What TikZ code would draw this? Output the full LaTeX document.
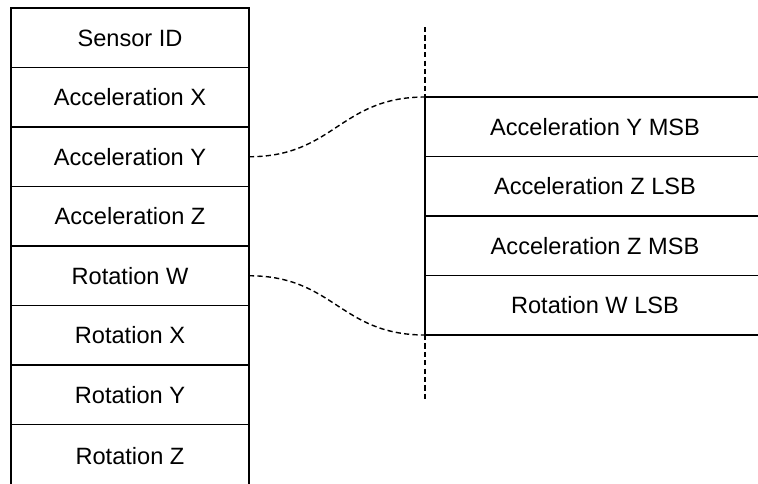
\documentclass[tikz,border=0pt]{standalone}
\usepackage{fontspec}
\setmainfont{Liberation Sans}
\usetikzlibrary{positioning}
\definecolor{mydark}{RGB}{0,0,0}
\tikzset{
  cell/.style={rectangle, draw=mydark, minimum width=119pt, minimum height=29.75pt,
    inner sep=0pt, outer sep=0pt, line width=0.7pt,
    font=\fontsize{11.8}{14}\selectfont, text height=8.4pt, text depth=0pt},
  widecell/.style={cell, minimum width=170pt},
  link/.style={line width=0.7pt, color=mydark, dash pattern=on 2.6pt off 1.6pt},
  guide/.style={line width=0.7pt, color=mydark, dash pattern=on 2.6pt off 1.6pt}
}
\begin{document}
\begin{tikzpicture}[x=0.5pt, y=-0.5pt]
\useasboundingbox (0,0) rectangle (758,483);
% left column
\node[cell] (sid) at (130,37.75) {Sensor ID};
\node[cell, below=0pt of sid] (accx) {Acceleration X};
\node[cell, below=0pt of accx] (accy) {Acceleration Y};
\node[cell, below=0pt of accy] (accz) {Acceleration Z};
\node[cell, below=0pt of accz] (rotw) {Rotation W};
\node[cell, below=0pt of rotw] (rotx) {Rotation X};
\node[cell, below=0pt of rotx] (roty) {Rotation Y};
\node[cell, below=0pt of roty, minimum height=32pt] (rotz) {Rotation Z};
% right column
\node[widecell] (aymsb) at (595,126.75) {Acceleration Y MSB};
\node[widecell, below=0pt of aymsb] (azlsb) {Acceleration Z LSB};
\node[widecell, below=0pt of azlsb] (azmsb) {Acceleration Z MSB};
\node[widecell, below=0pt of azmsb] (rwlsb) {Rotation W LSB};
\coordinate[above=35pt of aymsb.north west] (vtop);
\coordinate[below=32.5pt of rwlsb.south west] (vbot);
\draw[guide] (vtop) -- (aymsb.north west);
\draw[guide] (rwlsb.south west) -- (vbot);
% zoom links
\draw[link] (accy.east) .. controls +(85,0) and +(-85,0) .. (aymsb.north west);
\draw[link] (rotw.east) .. controls +(85,0) and +(-85,0) .. (rwlsb.south west);
\end{tikzpicture}
\end{document}
